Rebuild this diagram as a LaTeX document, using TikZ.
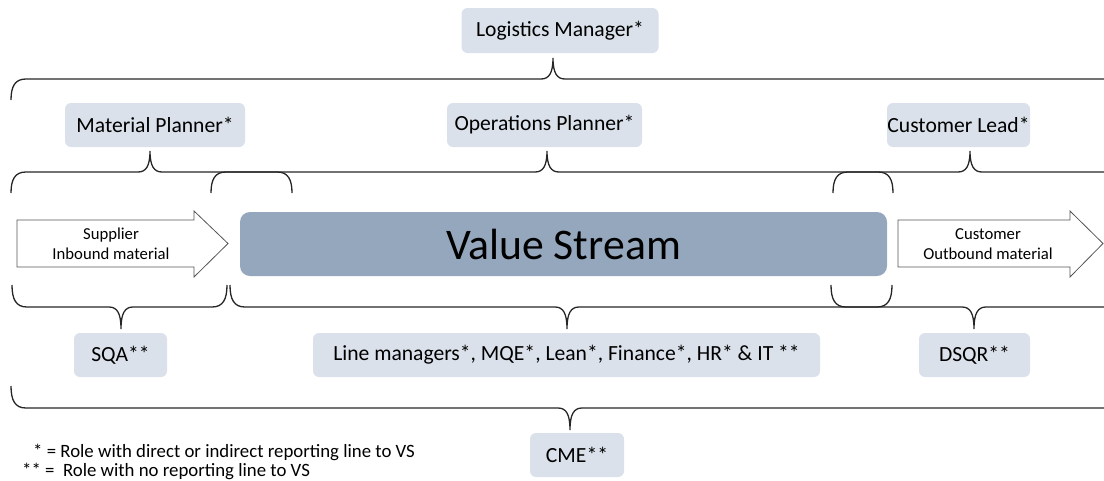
\documentclass[tikz,border=0pt]{standalone}
\usepackage{fontspec}
\setmainfont{Carlito}
\definecolor{rolefill}{HTML}{DAE1EA}
\definecolor{vsfill}{HTML}{95A7BD}
\definecolor{edgegrey}{HTML}{555555}

% Curly group bracket: #1 left end x, #2 right end x, #3 tip x,
% #4 line y, #5 direction (1: ends below line, -1: ends above), #6 reach
\newcommand\grpbrace[6]{%
  \draw[bracket] (#1,{#4+(#5)*#6}) .. controls (#1,{#4+(#5)*#6*0.35}) and ({#1+4},#4) .. ({#1+15},#4)
    -- ({#3-12},#4) .. controls ({#3-4},#4) and (#3,{#4-(#5)*6}) .. (#3,{#4-(#5)*#6})
    .. controls (#3,{#4-(#5)*6}) and ({#3+4},#4) .. ({#3+12},#4)
    -- ({#2-15},#4) .. controls ({#2-4},#4) and (#2,{#4+(#5)*#6*0.35}) .. (#2,{#4+(#5)*#6});}

\begin{document}
\begin{tikzpicture}[x=1pt,y=-1pt,
  role/.style={fill=rolefill, rounded corners=6pt, inner sep=0pt,
    font=\fontsize{21.6}{24}\selectfont},
  vsbox/.style={fill=vsfill, rounded corners=10pt, inner sep=0pt,
    font=\fontsize{43.7}{50}\selectfont},
  bracket/.style={line width=1.3pt, black!85},
  flow/.style={draw=edgegrey, line width=0.8pt, fill=white, line join=miter},
  flowtext/.style={align=center, inner sep=0pt, font=\fontsize{16.7}{20}\selectfont},
  legend/.style={anchor=base west, inner sep=0pt, font=\fontsize{18.8}{20}\selectfont}]
\useasboundingbox (0,0) rectangle (1104,480);
\clip (0,0) rectangle (1104,480);

% role boxes
\node[role, minimum width=197pt, minimum height=45pt] (lm) at (560,30.5) {Logistics Manager*};
\node[role, minimum width=180pt, minimum height=44pt] (mp) at (155,125) {Material Planner*};
\node[role, minimum width=195pt, minimum height=44pt] (op) at (544.5,125) {Operations Planner*};
\node[role, minimum width=143pt, minimum height=44pt] (cl) at (958.5,125) {Customer Lead*};
\node[role, minimum width=93pt, minimum height=44pt] (sqa) at (120.5,355) {SQA**};
\node[role, minimum width=507pt, minimum height=44pt] (lmg) at (566.5,355) {Line managers*, MQE*, Lean*, Finance*, HR* \& IT **};
\node[role, minimum width=111pt, minimum height=44pt] (dsqr) at (974.5,355) {DSQR**};
\node[role, minimum width=94pt, minimum height=44pt] (cme) at (577,455) {CME**};

% value stream
\node[vsbox, minimum width=647pt, minimum height=64pt] (vs) at (563.5,244) {Value Stream};

% material flow arrows
\draw[flow] (17,220) -- (194,220) -- (194,211) -- (228,243.5) -- (194,277) -- (194,267) -- (17,267) -- cycle;
\node[flowtext] (sup) at (111,244) {Supplier\\Inbound material};
\draw[flow] (898,220) -- (1070,220) -- (1070,211) -- (1103,243.5) -- (1070,277) -- (1070,267) -- (898,267) -- cycle;
\node[flowtext] (cus) at (988,244) {Customer\\Outbound material};

% group brackets
\grpbrace{11}{1118}{553}{79}{1}{21}
\grpbrace{11}{292}{150}{172}{1}{21}
\grpbrace{211}{893}{547}{172}{1}{21}
\grpbrace{833}{1118}{970}{172}{1}{21}
\grpbrace{12}{227}{121}{307}{-1}{22}
\grpbrace{230}{892}{567}{307}{-1}{22}
\grpbrace{831}{1118}{974}{307}{-1}{22}
\grpbrace{11}{1118}{570}{408}{-1}{22}

% legend
\node[legend] (l1) at (33,457) {* = Role with direct or indirect reporting line to VS};
\node[legend] (l2) at (22,476) {** =\ \ Role with no reporting line to VS};
\end{tikzpicture}
\end{document}
